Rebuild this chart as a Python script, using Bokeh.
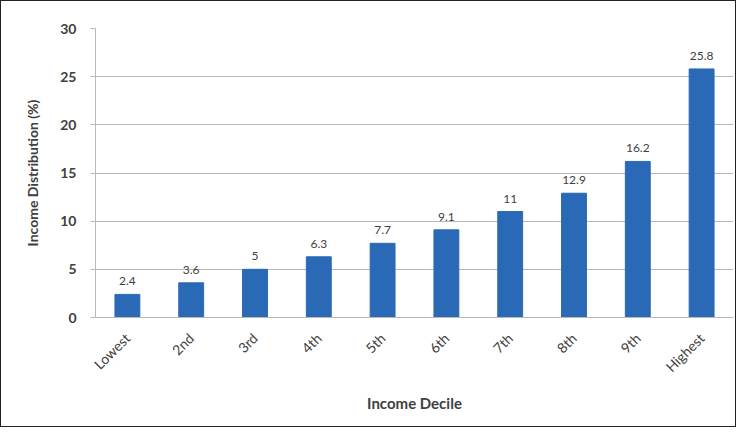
from math import pi
from bokeh.plotting import figure
from bokeh.models import ColumnDataSource, FixedTicker, Range1d
from bokeh.core.properties import value
from bokeh.embed import file_html
from bokeh.resources import INLINE

deciles = ["Lowest", "2nd", "3rd", "4th", "5th", "6th", "7th", "8th", "9th", "Highest"]
shares = [2.4, 3.6, 5, 6.3, 7.7, 9.1, 11, 12.9, 16.2, 25.8]
share_labels = ["2.4", "3.6", "5", "6.3", "7.7", "9.1", "11", "12.9", "16.2", "25.8"]
y_ticks = [0, 5, 10, 15, 20, 25, 30]

FONT = "Lato"
src = ColumnDataSource(dict(x=deciles, y=shares, lab=share_labels))

p = figure(x_range=deciles, y_range=Range1d(0, 30), width=736, height=427,
           output_backend="svg", toolbar_location=None,
           min_border_left=94, min_border_right=4, min_border_top=27, min_border_bottom=111)
p.styles = {"border": "1px solid #222222"}
p.outline_line_color = None
p.background_fill_color = "white"
p.border_fill_color = "white"

p.vbar(x="x", top="y", width=0.39, source=src, color="#2a69b6")
p.text(x="x", y="y", text="lab", source=src, text_align="center", text_baseline="bottom",
       y_offset=-9, text_font=value(FONT), text_font_size="12px", text_color="#404040")

p.xgrid.grid_line_color = None
p.ygrid.grid_line_color = "#b8b8b8"
p.ygrid.grid_line_width = 1

p.yaxis.ticker = FixedTicker(ticks=y_ticks)
p.yaxis.axis_line_color = "#b8b8b8"
p.yaxis.major_tick_line_color = "#b8b8b8"
p.yaxis.major_tick_out = 5
p.yaxis.major_tick_in = 0
p.yaxis.minor_tick_line_color = None
p.yaxis.major_label_text_font = FONT
p.yaxis.major_label_text_font_size = "14px"
p.yaxis.major_label_text_color = "#404040"
p.yaxis.major_label_text_font_style = "bold"
p.yaxis.major_label_standoff = 14
p.yaxis.axis_label = "Income Distribution (%)"
p.yaxis.axis_label_text_font = FONT
p.yaxis.axis_label_text_font_size = "14px"
p.yaxis.axis_label_text_font_style = "bold"
p.yaxis.axis_label_text_color = "#404040"
p.yaxis.axis_label_standoff = 16

p.xaxis.axis_line_color = "#b8b8b8"
p.xaxis.major_tick_line_color = None
p.xaxis.major_label_orientation = pi / 4
p.xaxis.major_label_text_font = FONT
p.xaxis.major_label_text_font_size = "14px"
p.xaxis.major_label_text_color = "#404040"
p.xaxis.major_label_standoff = 12
p.xaxis.axis_label = "Income Decile"
p.xaxis.axis_label_text_font = FONT
p.xaxis.axis_label_text_font_size = "15px"
p.xaxis.axis_label_text_font_style = "bold"
p.xaxis.axis_label_text_color = "#404040"
p.xaxis.axis_label_standoff = 10

open("out.html", "w").write(file_html(p, INLINE))
